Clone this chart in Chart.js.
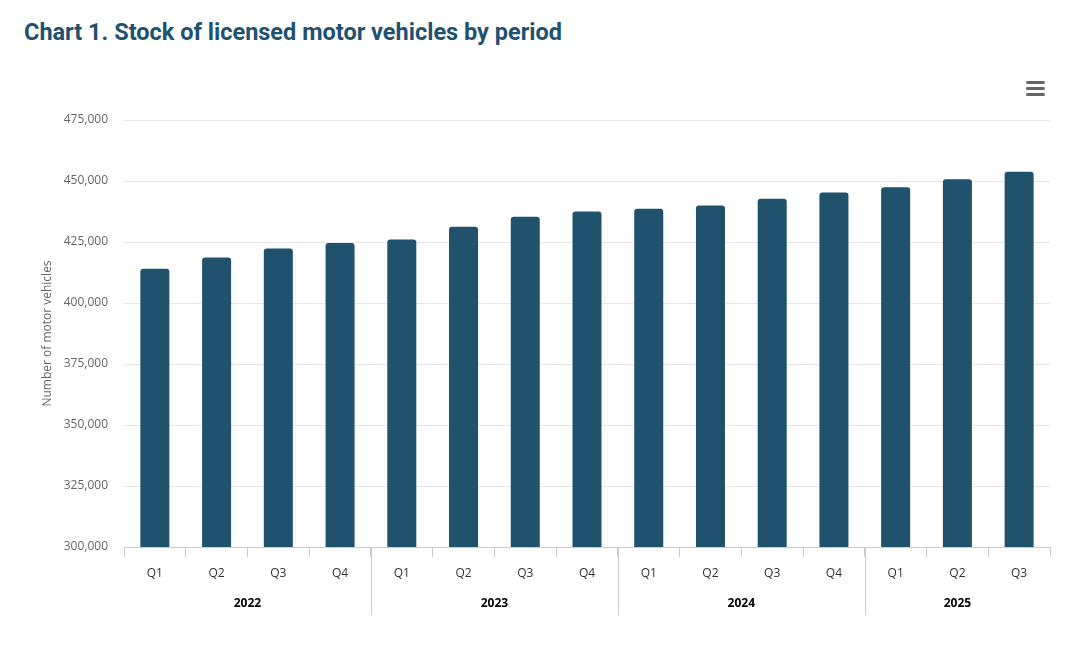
<!DOCTYPE html>
<html>
<head>
<meta charset="utf-8">
<script src="https://cdn.jsdelivr.net/npm/chart.js@4.4.0/dist/chart.umd.min.js"></script>
<style>
  html, body { margin: 0; padding: 0; background: #fff; }
  body { width: 1092px; height: 646px; position: relative; overflow: hidden; }
  #titulo {
    position: absolute; left: 24px; top: 18px; margin: 0;
    font-family: Roboto, sans-serif; font-weight: 700; font-size: 23.5px;
    color: #1f5170;
  }
  #menu { position: absolute; left: 1026px; top: 81px; width: 19px; }
  #menu div { height: 3px; background: #666; border-radius: 1.5px; margin-bottom: 3px; }
  #wrap { position: absolute; left: 0; top: 0; width: 1092px; height: 646px; }
</style>
</head>
<body>
<h1 id="titulo">Chart 1. Stock of licensed motor vehicles by period</h1>
<div id="menu"><div></div><div></div><div></div></div>
<div id="wrap"><canvas id="grafico"></canvas></div>
<script>
// Dados
const quarters = ['Q1', 'Q2', 'Q3', 'Q4', 'Q1', 'Q2', 'Q3', 'Q4', 'Q1', 'Q2', 'Q3', 'Q4', 'Q1', 'Q2', 'Q3'];
const years = ['2022', '2022', '2022', '2022', '2023', '2023', '2023', '2023', '2024', '2024', '2024', '2024', '2025', '2025', '2025'];
const vehicles = [414000, 418600, 422300, 424600, 426000, 431200, 435300, 437500, 438600, 440000, 442700, 445300, 447400, 450700, 453800];
const yTicks = [300000, 325000, 350000, 375000, 400000, 425000, 450000, 475000];

const axisFont = { family: '"Open Sans", sans-serif', size: 12 };

// Plugin que desenha os anos e as linhas separadoras abaixo dos trimestres
const yearGroups = {
    id: 'yearGroups',
    afterDraw(chart) {
        const ctx = chart.ctx;
        const x = chart.scales.x;
        const bottom = chart.chartArea.bottom;
        const groups = [];
        years.forEach((y, i) => {
            const last = groups[groups.length - 1];
            if (last && last.year === y) last.end = i;
            else groups.push({ year: y, start: i, end: i });
        });
        ctx.save();
        ctx.font = 'bold 12px "Open Sans", sans-serif';
        ctx.fillStyle = '#000';
        ctx.textAlign = 'center';
        ctx.textBaseline = 'middle';
        groups.forEach((g, k) => {
            const cx = (x.getPixelForValue(g.start) + x.getPixelForValue(g.end)) / 2;
            ctx.fillText(g.year, cx, bottom + 57);
            if (k > 0) {
                const sx = Math.round((x.getPixelForValue(g.start - 1) + x.getPixelForValue(g.start)) / 2) + 0.5;
                ctx.strokeStyle = '#ccc';
                ctx.lineWidth = 1;
                ctx.beginPath();
                ctx.moveTo(sx, bottom);
                ctx.lineTo(sx, bottom + 68);
                ctx.stroke();
            }
        });
        ctx.restore();
    }
};

new Chart(document.getElementById('grafico'), {
    type: 'bar',
    data: {
        labels: quarters,
        datasets: [{
            label: 'Number of motor vehicles',
            data: vehicles,
            backgroundColor: '#20526e',
            borderRadius: { topLeft: 3, topRight: 3 },
            borderSkipped: 'bottom',
            categoryPercentage: 1,
            barPercentage: 0.47
        }]
    },
    options: {
        responsive: true,
        maintainAspectRatio: false,
        animation: false,
        layout: { padding: { top: 120, right: 42, bottom: 0, left: 0 } },
        plugins: {
            legend: { display: false },
            tooltip: { enabled: false }
        },
        scales: {
            x: {
                afterFit: (s) => { s.height = 99; },
                grid: {
                    offset: true,
                    drawOnChartArea: false,
                    tickLength: 10,
                    color: '#ccc'
                },
                border: { color: '#ccc' },
                ticks: {
                    padding: 9,
                    color: '#333',
                    font: axisFont,
                    maxRotation: 0
                }
            },
            y: {
                min: 300000,
                max: 475000,
                afterFit: (s) => { s.width = 124; },
                afterBuildTicks: (s) => { s.ticks = yTicks.map(v => ({ value: v })); },
                grid: { color: '#e6e6e6', drawTicks: false },
                border: { display: false },
                ticks: {
                    padding: 16,
                    color: '#666',
                    font: axisFont,
                    callback: (v) => v.toLocaleString('en-US')
                },
                title: {
                    display: true,
                    text: 'Number of motor vehicles',
                    color: '#666',
                    font: axisFont,
                    padding: { top: 40, bottom: 0 }
                }
            }
        }
    },
    plugins: [yearGroups]
});
</script>
</body>
</html>
